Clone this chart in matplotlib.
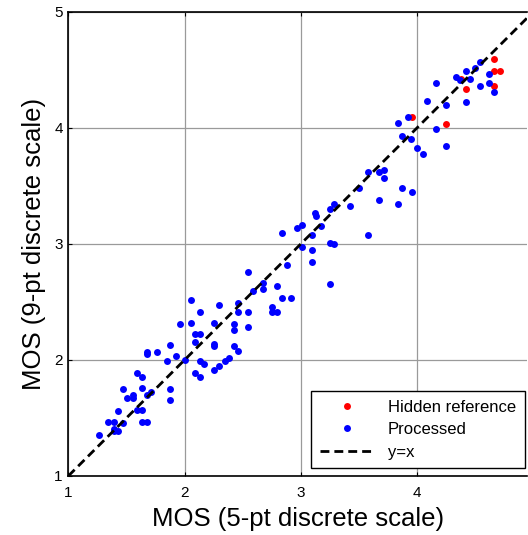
import numpy as np
import matplotlib
matplotlib.use('Agg')
import matplotlib.pyplot as plt

plt.rcParams['font.family'] = ['Liberation Sans', 'DejaVu Sans']

# MOS values (x: 5-pt scale, y: 9-pt scale)
ref_x = [4.667, 4.667, 4.712, 4.667, 4.423, 4.378, 3.954, 4.247]
ref_y = [4.595, 4.491, 4.491, 4.362, 4.339, 4.420, 4.092, 4.034]

proc_x = [4.540, 4.503, 4.426, 4.339, 4.374, 4.460, 4.624, 4.624, 4.540, 4.667,
          4.423, 4.165, 4.087, 4.247, 3.920, 3.837, 3.872, 3.952, 4.165, 4.001,
          4.049, 4.247, 3.581, 3.676, 3.713, 3.713, 3.501, 3.874, 3.954, 3.674,
          3.840, 3.420, 3.289, 3.254, 3.125, 3.129, 3.010, 2.966, 3.174, 2.836,
          3.095, 3.581, 3.010, 3.254, 3.289, 3.095, 3.095, 2.886, 2.673, 2.673,
          2.800, 3.254, 2.836, 2.916, 2.752, 2.545, 2.588, 2.752, 2.800, 2.054,
          2.301, 2.463, 2.463, 2.545, 2.136, 1.962, 2.054, 2.252, 2.429, 2.429,
          2.545, 2.091, 2.137, 2.091, 2.252, 2.252, 2.429, 2.463, 1.879, 1.928,
          2.007, 2.137, 2.171, 2.350, 2.384, 2.301, 2.251, 2.090, 2.137, 1.680,
          1.680, 1.764, 1.846, 1.589, 1.637, 1.473, 1.637, 1.879, 1.555, 1.715,
          1.506, 1.555, 1.680, 1.879, 1.428, 1.589, 1.637, 1.345, 1.391, 1.473,
          1.635, 1.680, 1.391, 1.391, 1.428, 1.264]
proc_y = [4.572, 4.515, 4.491, 4.442, 4.414, 4.420, 4.466, 4.385, 4.362, 4.313,
          4.222, 4.385, 4.235, 4.198, 4.092, 4.046, 3.931, 3.905, 3.989, 3.825,
          3.778, 3.847, 3.618, 3.618, 3.638, 3.569, 3.485, 3.485, 3.451, 3.379,
          3.345, 3.328, 3.345, 3.299, 3.265, 3.243, 3.164, 3.135, 3.159, 3.092,
          3.078, 3.078, 2.972, 3.011, 2.997, 2.948, 2.845, 2.819, 2.661, 2.612,
          2.634, 2.658, 2.532, 2.532, 2.453, 2.761, 2.599, 2.412, 2.412, 2.517,
          2.470, 2.494, 2.412, 2.412, 2.412, 2.309, 2.319, 2.319, 2.309, 2.259,
          2.284, 2.224, 2.224, 2.153, 2.138, 2.122, 2.121, 2.079, 2.131, 2.037,
          1.996, 1.993, 1.966, 1.994, 2.015, 1.946, 1.911, 1.888, 1.851, 2.072,
          2.049, 2.072, 1.990, 1.888, 1.851, 1.747, 1.757, 1.747, 1.700, 1.724,
          1.675, 1.675, 1.700, 1.655, 1.560, 1.569, 1.569, 1.468, 1.468, 1.454,
          1.468, 1.468, 1.409, 1.385, 1.384, 1.351]

line_xy = [1, 5]

fig = plt.figure(figsize=(5.28, 5.35), dpi=100)
ax = fig.add_axes([0.1294, 0.1103, 0.8693, 0.8673])

ax.plot(ref_x, ref_y, 'o', color=(1, 0, 0), markersize=5, markeredgewidth=0,
        label='Hidden reference', zorder=3)
ax.plot(proc_x, proc_y, 'o', color=(0, 0, 1), markersize=5, markeredgewidth=0,
        label='Processed', zorder=3)
ax.plot(line_xy, line_xy, '--', color='k', linewidth=2, dashes=(3.2, 1.8),
        label='y=x', zorder=4)

ax.set_xlim(1, 4.95)
ax.set_ylim(1, 5)
ax.set_xticks([1, 2, 3, 4])
ax.set_yticks([1, 2, 3, 4, 5])
ax.grid(True, color='#9a9a9a', linewidth=0.9)
ax.set_axisbelow(True)
ax.tick_params(direction='in', length=3, top=True, right=False, labelsize=11)
ax.tick_params(axis='x', pad=7)
ax.tick_params(axis='y', pad=4)
for s in ['top', 'bottom', 'left']:
    ax.spines[s].set_linewidth(1.2)
ax.spines['right'].set_visible(False)

ax.set_xlabel('MOS (5-pt discrete scale)', fontsize=18.5, labelpad=5)
ax.set_ylabel('MOS (9-pt discrete scale)', fontsize=18.5, labelpad=6)

leg = ax.legend(loc='lower right', bbox_to_anchor=(0.994, 0.017), borderaxespad=0,
                fontsize=12, handlelength=3.3, labelspacing=0.45, fancybox=False,
                framealpha=1, edgecolor='k', borderpad=0.5)
leg.get_frame().set_linewidth(1.0)

fig.savefig('out.png', dpi=100)
